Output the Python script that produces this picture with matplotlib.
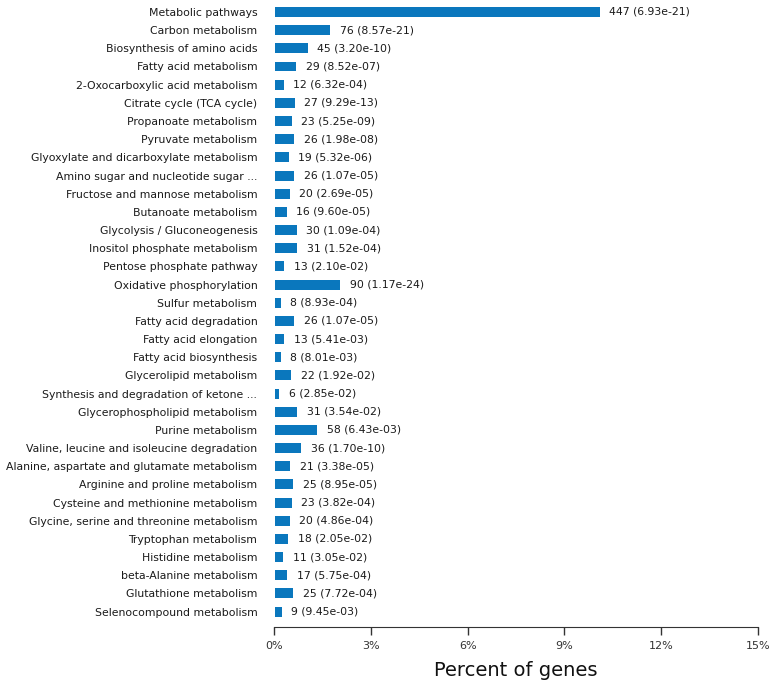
import matplotlib
matplotlib.use("Agg")
import matplotlib.pyplot as plt
from matplotlib.ticker import FuncFormatter

pathways = [
    "Metabolic pathways", "Carbon metabolism", "Biosynthesis of amino acids",
    "Fatty acid metabolism", "2-Oxocarboxylic acid metabolism", "Citrate cycle (TCA cycle)",
    "Propanoate metabolism", "Pyruvate metabolism", "Glyoxylate and dicarboxylate metabolism",
    "Amino sugar and nucleotide sugar ...", "Fructose and mannose metabolism",
    "Butanoate metabolism", "Glycolysis / Gluconeogenesis", "Inositol phosphate metabolism",
    "Pentose phosphate pathway", "Oxidative phosphorylation", "Sulfur metabolism",
    "Fatty acid degradation", "Fatty acid elongation", "Fatty acid biosynthesis",
    "Glycerolipid metabolism", "Synthesis and degradation of ketone ...",
    "Glycerophospholipid metabolism", "Purine metabolism",
    "Valine, leucine and isoleucine degradation", "Alanine, aspartate and glutamate metabolism",
    "Arginine and proline metabolism", "Cysteine and methionine metabolism",
    "Glycine, serine and threonine metabolism", "Tryptophan metabolism",
    "Histidine metabolism", "beta-Alanine metabolism", "Glutathione metabolism",
    "Selenocompound metabolism",
]
counts = [447, 76, 45, 29, 12, 27, 23, 26, 19, 26, 20, 16, 30, 31, 13, 90, 8, 26, 13, 8,
          22, 6, 31, 58, 36, 21, 25, 23, 20, 18, 11, 17, 25, 9]
pvalues = ["6.93e-21", "8.57e-21", "3.20e-10", "8.52e-07", "6.32e-04", "9.29e-13",
           "5.25e-09", "1.98e-08", "5.32e-06", "1.07e-05", "2.69e-05", "9.60e-05",
           "1.09e-04", "1.52e-04", "2.10e-02", "1.17e-24", "8.93e-04", "1.07e-05",
           "5.41e-03", "8.01e-03", "1.92e-02", "2.85e-02", "3.54e-02", "6.43e-03",
           "1.70e-10", "3.38e-05", "8.95e-05", "3.82e-04", "4.86e-04", "2.05e-02",
           "3.05e-02", "5.75e-04", "7.72e-04", "9.45e-03"]
total_genes = 4440
xticks = [0, 3, 6, 9, 12, 15]

percents = [c / total_genes * 100 for c in counts]

W, H = 772, 683
fig = plt.figure(figsize=(W / 100, H / 100), dpi=100)
left, right = 274, 758
top, bottom = 2, 627
ax = fig.add_axes([left / W, 1 - bottom / H, (right - left) / W, (bottom - top) / H])

ys = list(range(len(pathways)))
ax.barh(ys, percents, height=0.55, color="#0a77bd", left=0.03)
for y, p, c, pv in zip(ys, percents, counts, pvalues):
    ax.text(p + 0.33, y, f"{c} ({pv})", va="center", ha="left", fontsize=7.8, color="#1a1a1a")

ax.set_yticks(ys)
ax.set_yticklabels(pathways, fontsize=7.8, color="#1a1a1a")
ax.tick_params(axis="y", length=0, pad=12)
ax.set_ylim(len(pathways) - 1 + 0.85, -0.55)

ax.set_xlim(0, 15)
ax.set_xticks(xticks)
ax.xaxis.set_major_formatter(FuncFormatter(lambda v, _: f"{v:.0f}%"))
ax.tick_params(axis="x", labelsize=8, length=6, width=1, colors="#333333", pad=4)

for s in ["left", "right", "top"]:
    ax.spines[s].set_visible(False)
ax.spines["bottom"].set_color("#333333")

ax.set_xlabel("Percent of genes", fontsize=14, labelpad=7, color="#111111")

fig.savefig("out.png", dpi=100)
